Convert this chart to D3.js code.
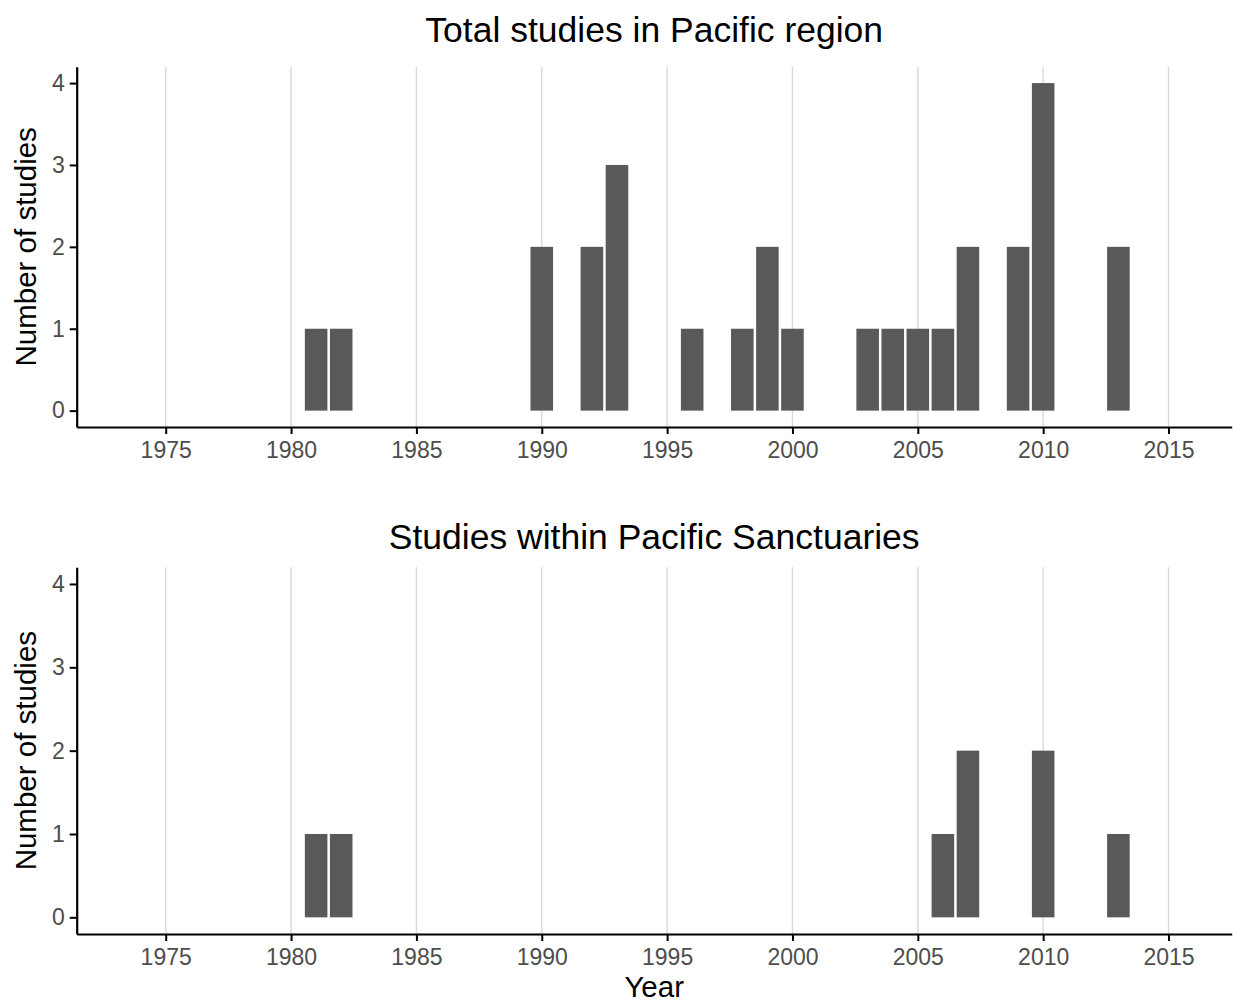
<!DOCTYPE html>
<html>
<head>
<meta charset="utf-8">
<script src="https://cdn.jsdelivr.net/npm/d3@7"></script>
<style>
  html, body { margin: 0; padding: 0; background: #fff; }
  svg { display: block; }
</style>
</head>
<body>
<div id="chart"></div>
<script>
// Study counts per publication year
const totalYears  = [1981, 1982, 1990, 1992, 1993, 1996, 1998, 1999, 2000, 2003, 2004, 2005, 2006, 2007, 2009, 2010, 2013];
const totalCounts = [1, 1, 2, 2, 3, 1, 1, 2, 1, 1, 1, 1, 1, 2, 2, 4, 2];

const sanctuaryYears  = [1981, 1982, 2006, 2007, 2010, 2013];
const sanctuaryCounts = [1, 1, 1, 2, 2, 1];

const xTicks = [1975, 1980, 1985, 1990, 1995, 2000, 2005, 2010, 2015];
const yTicks = [0, 1, 2, 3, 4];

const panelTitles = ["Total studies in Pacific region", "Studies within Pacific Sanctuaries"];
const yTitle = "Number of studies";
const xTitle = "Year";

const W = 1236, H = 1004;
const FONT = "'Liberation Sans', Arial, Helvetica, sans-serif";

const svg = d3.select("#chart").append("svg")
  .attr("width", W).attr("height", H)
  .style("font-family", FONT);

const left = 76.7, right = 1231.7;
const x = d3.scaleLinear().domain([1971.45, 2017.52]).range([left, right]);
const barW = x(1.9) - x(1.0); // 0.9 year wide bars

const panels = [
  { years: totalYears, counts: totalCounts, top: 66.7, bottom: 427, title: panelTitles[0], titleY: 42 },
  { years: sanctuaryYears, counts: sanctuaryCounts, top: 567.3, bottom: 934, title: panelTitles[1], titleY: 549 }
];

panels.forEach(p => {
  const y = d3.scaleLinear().domain([-0.2, 4.2]).range([p.bottom, p.top]);
  const g = svg.append("g");

  // vertical major gridlines
  g.append("g").selectAll("line").data(xTicks).join("line")
    .attr("x1", d => x(d)).attr("x2", d => x(d))
    .attr("y1", p.top).attr("y2", p.bottom)
    .attr("stroke", "#d9d9d9").attr("stroke-width", 1.4);

  // bars
  const data = p.years.map((yr, i) => ({ year: yr, n: p.counts[i] }));
  g.append("g").selectAll("rect").data(data).join("rect")
    .attr("x", d => x(d.year) - barW / 2)
    .attr("width", barW)
    .attr("y", d => y(d.n))
    .attr("height", d => y(0) - y(d.n))
    .attr("fill", "#595959");

  // x axis
  const xAxis = g.append("g")
    .attr("transform", `translate(0,${p.bottom})`)
    .call(d3.axisBottom(x).tickValues(xTicks).tickFormat(d3.format("d")).tickSize(7).tickSizeOuter(0).tickPadding(8));
  xAxis.select(".domain").attr("stroke", "#000").attr("stroke-width", 2.2);
  xAxis.selectAll(".tick line").attr("stroke", "#000").attr("stroke-width", 2);
  xAxis.selectAll(".tick text").attr("fill", "#4d4d4d").style("font-size", "23px").style("font-family", FONT);

  // y axis
  const yAxis = g.append("g")
    .attr("transform", `translate(${left},0)`)
    .call(d3.axisLeft(y).tickValues(yTicks).tickFormat(d3.format("d")).tickSize(7).tickSizeOuter(0).tickPadding(5));
  yAxis.select(".domain").attr("stroke", "#000").attr("stroke-width", 2.2);
  yAxis.selectAll(".tick line").attr("stroke", "#000").attr("stroke-width", 2);
  yAxis.selectAll(".tick text").attr("fill", "#4d4d4d").style("font-size", "23px").style("font-family", FONT);

  // panel title
  svg.append("text")
    .attr("x", (left + right) / 2).attr("y", p.titleY)
    .attr("text-anchor", "middle")
    .style("font-size", "35.5px").attr("fill", "#000")
    .text(p.title);

  // y axis title
  svg.append("text")
    .attr("transform", `translate(36,${(p.top + p.bottom) / 2}) rotate(-90)`)
    .attr("text-anchor", "middle")
    .style("font-size", "29.5px").attr("fill", "#000")
    .text(yTitle);
});

// x axis title
svg.append("text")
  .attr("x", (left + right) / 2).attr("y", 997)
  .attr("text-anchor", "middle")
  .style("font-size", "29.5px").attr("fill", "#000")
  .text(xTitle);
</script>
</body>
</html>
